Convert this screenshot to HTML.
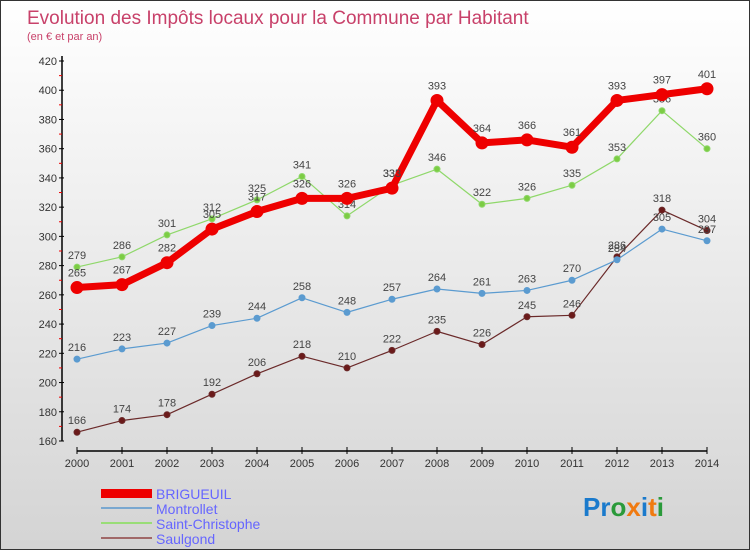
<!DOCTYPE html>
<html><head><meta charset="utf-8"><style>
body{margin:0;}
#c{width:750px;height:550px;position:relative;box-sizing:border-box;border:1px solid #333;background:linear-gradient(#fff,#d4d4d4);font-family:"Liberation Sans",sans-serif;overflow:hidden}
svg text{font-family:"Liberation Sans",sans-serif}
</style></head><body>
<div id="c">
<svg width="750" height="550" id="s">
<text x="26" y="23" font-size="19" fill="#c8416a">Evolution des Impôts locaux pour la Commune par Habitant</text>
<text x="26" y="39" font-size="11" fill="#c8416a">(en € et par an)</text>
<g id="ax"></g><g id="series"></g>
<g>
<rect x="100" y="488" width="51" height="9" fill="#e00"/>
<text x="155" y="498" font-size="14" fill="#6666ff">BRIGUEUIL</text>
<line x1="100" y1="507" x2="151" y2="507" stroke="#7aa8d0" stroke-width="2"/>
<text x="155" y="513" font-size="14" fill="#6666ff">Montrollet</text>
<line x1="100" y1="522" x2="151" y2="522" stroke="#99dd77" stroke-width="2"/>
<text x="155" y="528" font-size="14" fill="#6666ff">Saint-Christophe</text>
<line x1="100" y1="537" x2="151" y2="537" stroke="#a06868" stroke-width="2"/>
<text x="155" y="543" font-size="14" fill="#6666ff">Saulgond</text>
</g>
<text x="582" y="515" font-size="26" font-weight="bold"><tspan fill="#1a7acc">Pr</tspan><tspan fill="#2a9a3a">o</tspan><tspan fill="#f07a10">x</tspan><tspan fill="#1a7acc">i</tspan><tspan fill="#f07a10">t</tspan><tspan fill="#2a9a3a">i</tspan></text>
</svg>
<script>
const years=[2000,2001,2002,2003,2004,2005,2006,2007,2008,2009,2010,2011,2012,2013,2014];
const brigueuil=[265,267,282,305,317,326,326,333,393,364,366,361,393,397,401];
const montrollet=[216,223,227,239,244,258,248,257,264,261,263,270,284,305,297];
const saintChristophe=[279,286,301,312,325,341,314,335,346,322,326,335,353,386,360];
const saulgond=[166,174,178,192,206,218,210,222,235,226,245,246,286,318,304];
const yTicks=[160,180,200,220,240,260,280,300,320,340,360,380,400,420];
const NS="http://www.w3.org/2000/svg";
const X=i=>76+i*45;
const Y=v=>440-(v-160)*380/260;
function mk(t,a,p){const e=document.createElementNS(NS,t);for(const k in a)e.setAttribute(k,a[k]);p.appendChild(e);return e;}
const ax=document.getElementById('ax');
let l=mk('line',{x1:61,y1:55,x2:61,y2:440,stroke:'#000','stroke-width':1.5},ax);


l=mk('line',{x1:76,y1:450,x2:706,y2:450,stroke:'#000','stroke-width':1.5},ax);


yTicks.forEach(v=>{mk('line',{x1:58,y1:Y(v),x2:63,y2:Y(v),stroke:'#000'},ax);
 if(v<420)mk('line',{x1:58,y1:Y(v+10),x2:61,y2:Y(v+10),stroke:'#e00'},ax);
 const t=mk('text',{x:56,y:Y(v)+4,'font-size':11,fill:'#333','text-anchor':'end'},ax);t.textContent=v;
 
 });
years.forEach((y,i)=>{mk('line',{x1:X(i),y1:446,x2:X(i),y2:453,stroke:'#000'},ax);
 const t=mk('text',{x:X(i),y:466,'font-size':11,fill:'#333','text-anchor':'middle'},ax);t.textContent=y;
 
 });
const sg=document.getElementById('series');
function draw(d,name,col,fill,w,r){const g=mk('g',{},sg);
 
 
 mk('polyline',{points:d.map((v,i)=>X(i)+','+Y(v)).join(' '),fill:'none',stroke:col,'stroke-width':w,'stroke-linejoin':'round'},g);
 d.forEach((v,i)=>{const c=mk('circle',{cx:X(i),cy:Y(v),r:r,fill:fill,stroke:col,'stroke-width':1},g);
  
  
  const t=mk('text',{x:X(i),y:Y(v)-8-(r>4?3:0),'font-size':11,fill:'#444','text-anchor':'middle'},g);t.textContent=v;
  
  });}
draw(saulgond,'saulgond','#6b2a2a','#6b1a1a',1.2,3);
draw(montrollet,'montrollet','#5b9bd0','#5b9bd0',1.2,3);
draw(saintChristophe,'saint-christophe','#8fd86a','#7ccc44',1.2,3);
draw(brigueuil,'brigueuil','#ee0000','#e00',7,6);
</script>
</div></body></html>
